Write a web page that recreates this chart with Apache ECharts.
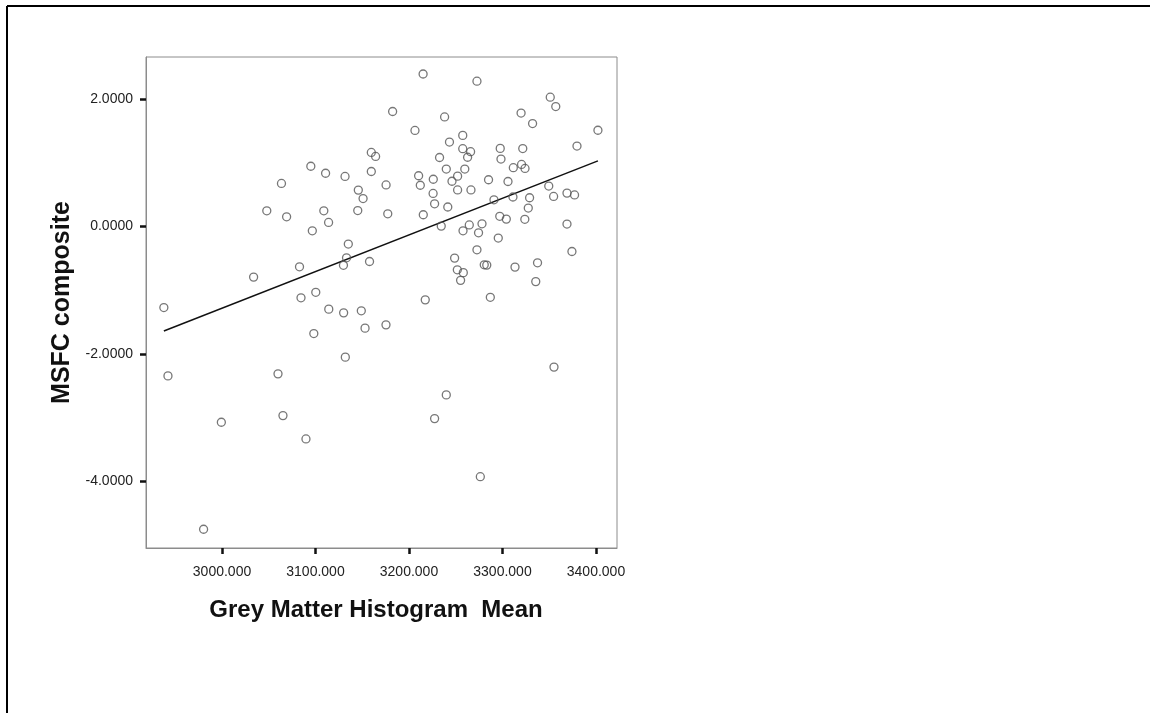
<!DOCTYPE html>
<html>
<head>
<meta charset="utf-8">
<title>MSFC composite vs Grey Matter Histogram Mean</title>
<script src="https://cdn.jsdelivr.net/npm/echarts@6/dist/echarts.min.js"></script>
<style>
  html, body { margin: 0; padding: 0; background: #fff; }
  #chart { width: 1150px; height: 713px; }
</style>
</head>
<body>
<div id="chart"></div>
<script>
// values
const greyMatterMean = [
  2937.8, 2942.2, 2980.3, 2999.3, 3033.8, 3047.9, 3059.9, 3063.6, 3065.2, 3069.1,
  3082.9, 3084.5, 3089.8, 3095.0, 3096.6, 3098.2, 3100.3, 3108.9, 3110.8, 3114.0,
  3114.2, 3130.1, 3129.9, 3131.6, 3131.9, 3133.2, 3135.1, 3145.2, 3145.8, 3149.0,
  3150.9, 3153.0, 3157.8, 3159.7, 3164.3, 3159.7, 3175.4, 3175.5, 3177.3, 3182.5,
  3206.4, 3210.3, 3212.1, 3215.1, 3215.3, 3217.4, 3225.8, 3226.0, 3227.4, 3227.4,
  3232.7, 3234.5, 3238.1, 3239.9, 3239.9, 3241.5, 3243.3, 3246.0, 3248.8, 3252.0,
  3252.0, 3251.7, 3255.2, 3257.5, 3257.5, 3257.8, 3258.1, 3259.7, 3262.7, 3264.5,
  3265.9, 3266.3, 3272.7, 3272.7, 3274.4, 3276.3, 3278.1, 3280.5, 3283.2, 3285.1,
  3287.0, 3290.9, 3295.5, 3297.6, 3298.4, 3297.1, 3304.1, 3305.9, 3311.2, 3311.6,
  3313.4, 3319.9, 3320.4, 3321.7, 3324.1, 3323.9, 3327.6, 3329.0, 3332.2, 3335.6,
  3337.5, 3349.5, 3351.1, 3354.7, 3355.1, 3357.0, 3369.0, 3369.0, 3374.3, 3377.1,
  3379.7, 3402.1
];
const msfcComposite = [
  -1.272, -2.344, -4.750, -3.071, -0.794, 0.246, -2.312, 0.675, -2.967, 0.152,
  -0.633, -1.119, -3.333, 0.945, -0.068, -1.680, -1.033, 0.246, 0.835, 0.063,
  -1.297, -1.355, -0.609, 0.785, -2.050, -0.491, -0.276, 0.250, 0.571, -1.323,
  0.438, -1.595, -0.549, 1.162, 1.099, 0.863, -1.543, 0.652, 0.199, 1.804,
  1.507, 0.796, 0.647, 2.392, 0.184, -1.151, 0.518, 0.741, 0.356, -3.014,
  1.082, 0.006, 1.719, 0.901, -2.642, 0.306, 1.325, 0.710, -0.496, 0.790,
  0.573, -0.680, -0.845, 1.429, 1.220, -0.068, -0.724, 0.901, 1.086, 0.024,
  1.173, 0.573, 2.279, -0.366, -0.099, -3.925, 0.042, -0.601, -0.606, 0.733,
  -1.111, 0.419, -0.181, 1.225, 1.058, 0.160, 0.116, 0.706, 0.463, 0.922,
  -0.637, 1.780, 0.973, 1.223, 0.911, 0.113, 0.289, 0.451, 1.615, -0.865,
  -0.570, 0.634, 2.028, 0.471, -2.206, 1.882, 0.524, 0.038, -0.392, 0.495,
  1.262, 1.510
];
// fit line end points (min and max of x)
const fitX = [2937.8, 3402.1];
const fitY = [-1.64, 1.03];

const xTicks = [3000, 3100, 3200, 3300, 3400];
const yTicks = [-4, -2, 0, 2];
const xRange = [2918.7, 3422.5];
const yRange = [-5.044, 2.659];

const chart = echarts.init(document.getElementById('chart'), null, { renderer: 'canvas' });
const fontFamily = "'Liberation Sans', Arial, sans-serif";
const frameColor = '#8c8c8c';

const points = greyMatterMean.map((x, i) => [x, msfcComposite[i]]);
const fitLine = fitX.map((x, i) => [x, fitY[i]]);

const axisCommon = {
  type: 'value',
  axisLine: { show: true, onZero: false, lineStyle: { color: frameColor, width: 1 } },
  axisTick: { show: true, inside: false, length: 6, lineStyle: { color: '#111', width: 2.5 } },
  splitLine: { show: false },
  nameLocation: 'middle'
};

chart.setOption({
  animation: false,
  backgroundColor: '#fff',
  textStyle: { fontFamily },
  grid: {
    left: 146, top: 57, right: 533, bottom: 165,
    show: true, borderColor: frameColor, borderWidth: 1, backgroundColor: '#fff'
  },
  xAxis: {
    ...axisCommon,
    min: xRange[0],
    max: xRange[1],
    name: 'Grey Matter Histogram  Mean',
    nameGap: 50,
    nameTextStyle: { fontFamily, fontWeight: 'bold', fontSize: 24, color: '#111', padding: [0, 11, 0, 0] },
    axisTick: { ...axisCommon.axisTick, customValues: xTicks },
    axisLabel: {
      customValues: xTicks,
      margin: 17,
      fontFamily, fontSize: 14, color: '#222',
      formatter: v => v.toFixed(3)
    }
  },
  yAxis: {
    ...axisCommon,
    min: yRange[0],
    max: yRange[1],
    name: 'MSFC composite',
    nameGap: 71,
    nameTextStyle: { fontFamily, fontWeight: 'bold', fontSize: 25, color: '#111' },
    axisTick: { ...axisCommon.axisTick, customValues: yTicks },
    axisLabel: {
      customValues: yTicks,
      margin: 13,
      fontFamily, fontSize: 14, color: '#222',
      formatter: v => v.toFixed(4)
    }
  },
  series: [
    {
      type: 'line',
      data: fitLine,
      symbol: 'none',
      silent: true,
      lineStyle: { color: '#111', width: 1.5 },
      z: 2
    },
    {
      type: 'scatter',
      data: points,
      symbol: 'circle',
      symbolSize: 8,
      itemStyle: { color: 'rgba(0,0,0,0)', borderColor: '#555', borderWidth: 1.3 },
      z: 3
    }
  ],
  // outer figure border (top and left edges only are inside the picture)
  graphic: [
    { type: 'line', shape: { x1: 7, y1: 6, x2: 1150, y2: 6 }, style: { stroke: '#000', lineWidth: 2 } },
    { type: 'line', shape: { x1: 7, y1: 6, x2: 7, y2: 713 }, style: { stroke: '#000', lineWidth: 2 } }
  ]
});

window.addEventListener('resize', () => chart.resize());
</script>
</body>
</html>
